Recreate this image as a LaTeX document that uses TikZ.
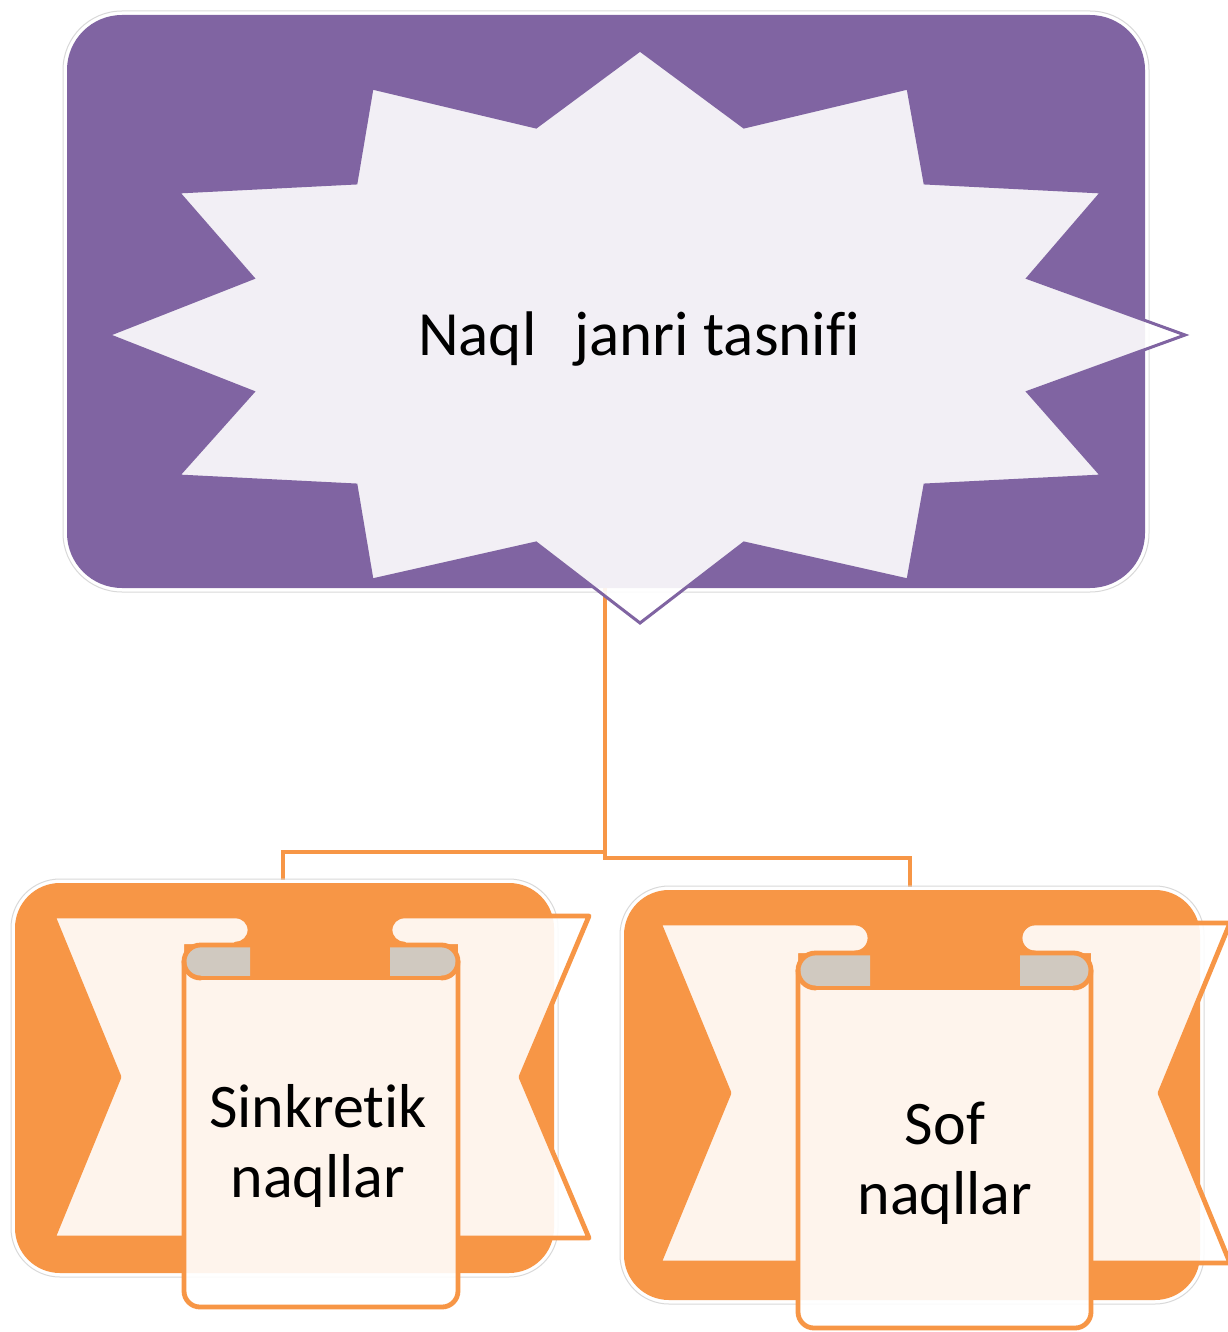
\documentclass[tikz,border=0pt]{standalone}
\usepackage{fontspec}
\setmainfont[Ligatures={NoCommon}]{Carlito}
\definecolor{purpleC}{HTML}{8064A2}
\definecolor{orangeC}{HTML}{F79646}
\definecolor{foldC}{HTML}{D0C9C0}
\definecolor{edgeC}{HTML}{D9D9D9}
\tikzset{
  boxedge/.style={draw=edgeC, line width=1pt},
  purplebox/.style={fill=purpleC},
  orangebox/.style={fill=orangeC},
  starshape/.style={fill=white, fill opacity=0.9, draw=purpleC, line width=3pt, line join=miter},
  bandfill/.style={fill=white, fill opacity=0.9},
  bandline/.style={draw=orangeC, line width=4.8pt, line join=round, line cap=round},
  foldfill/.style={fill=foldC},
  link/.style={draw=orangeC, line width=4.5pt},
  label/.style={font=\fontsize{62}{70}\selectfont, align=center, text=black},
  titlelabel/.style={font=\fontsize{63}{72}\selectfont, text=black}
}
\begin{document}
\begin{tikzpicture}[x=1pt,y=-1pt]
\useasboundingbox (0,0) rectangle (1227,1332);
\fill[white] (0,0) rectangle (1227,1332);

% connectors
\coordinate (rootout) at (605,588);
\coordinate (jl) at (605,852);
\coordinate (jr) at (605,858);
\coordinate (lefttop) at (283,880);
\coordinate (righttop) at (910,887);
\draw[link] (rootout) -- (jr) -| (righttop);
\draw[link] (jl) -| (lefttop);

% top purple box
\draw[boxedge, rounded corners=59] (63,11) rectangle (1149,592);
\fill[purplebox, rounded corners=55] (67,15) rectangle (1145,588);
\path[starshape] (640,50) -- (744,127) -- (908,88) -- (925,183) -- (1102,192) -- (1028,278) -- (1185,335) -- (1028,392) -- (1102,476) -- (925,485) -- (908,580) -- (744,543) -- (640,623) -- (536,543) -- (372,580) -- (356,485) -- (178,476) -- (253,392) -- (108,335) -- (253,278) -- (178,192) -- (356,183) -- (372,88) -- (536,127) -- cycle;
\node[titlelabel, anchor=base] (title) at (639,355) {Naql\hspace{38pt}janri tasnifi};

% left orange box
\draw[boxedge, rounded corners=49] (11,879) rectangle (558,1277);
\fill[orangebox, rounded corners=45] (15,883) rectangle (554,1273);
% banner ends
\path[bandfill] (53,916) -- (236,916) arc[start angle=-90,end angle=90,radius=14] -- (184,944) -- (184,1238) -- (53,1238) -- (119,1077) -- cycle;
\path[bandline] (184,1238) -- (53,1238) -- (119,1077) -- (53,916) -- (236,916) arc[start angle=-90,end angle=90,radius=14];
\path[bandfill] (589,916) -- (404,916) arc[start angle=-90,end angle=-270,radius=14] -- (458,944) -- (458,1238) -- (589,1238) -- (521,1077) -- cycle;
\path[bandline] (458,1238) -- (589,1238) -- (521,1077) -- (589,916) -- (404,916) arc[start angle=-90,end angle=-270,radius=14];
% face
\path[bandfill] (184,961.5) -- (184,1291) arc[start angle=180,end angle=90,radius=16] -- (442,1307) arc[start angle=90,end angle=0,radius=16] -- (458,961.5) -- (441.5,961.5) -- (441.5,978) -- (200.5,978) -- (200.5,961.5) -- cycle;
% folds
\path[foldfill] (250,945) -- (200.5,945) arc[start angle=-90,end angle=-270,radius=16.5] -- (250,978) -- cycle;
\path[bandline] (250,945) -- (200.5,945) arc[start angle=-90,end angle=-270,radius=16.5];
\path[foldfill] (390,945) -- (441.5,945) arc[start angle=-90,end angle=90,radius=16.5] -- (390,978) -- cycle;
\path[bandline] (390,945) -- (441.5,945) arc[start angle=-90,end angle=90,radius=16.5];
\path[bandline] (184,961.5) -- (184,1291) arc[start angle=180,end angle=90,radius=16] -- (442,1307) arc[start angle=90,end angle=0,radius=16] -- (458,961.5);
\path[bandline] (200.5,978) -- (441.5,978);
\node[label, anchor=base] (sink) at (318,1197) {Sinkretik\\naqllar};

% right orange box
\draw[boxedge, rounded corners=49] (620,886) rectangle (1204,1304);
\fill[orangebox, rounded corners=45] (624,890) rectangle (1200,1300);
\path[bandfill] (659,923) -- (855,923) arc[start angle=-90,end angle=90,radius=15] -- (798,953) -- (798,1263) -- (659,1263) -- (729,1093) -- cycle;
\path[bandline] (798,1263) -- (659,1263) -- (729,1093) -- (659,923) -- (855,923) arc[start angle=-90,end angle=90,radius=15];
\path[bandfill] (1230,923) -- (1035,923) arc[start angle=-90,end angle=-270,radius=15] -- (1091,953) -- (1091,1263) -- (1230,1263) -- (1160,1093) -- cycle;
\path[bandline] (1091,1263) -- (1230,1263) -- (1160,1093) -- (1230,923) -- (1035,923) arc[start angle=-90,end angle=-270,radius=15];
\path[bandfill] (798,970.5) -- (798,1312) arc[start angle=180,end angle=90,radius=16] -- (1075,1328) arc[start angle=90,end angle=0,radius=16] -- (1091,970.5) -- (1073.5,970.5) -- (1073.5,988) -- (815.5,988) -- (815.5,970.5) -- cycle;
\path[foldfill] (870,953) -- (815.5,953) arc[start angle=-90,end angle=-270,radius=17.5] -- (870,988) -- cycle;
\path[bandline] (870,953) -- (815.5,953) arc[start angle=-90,end angle=-270,radius=17.5];
\path[foldfill] (1020,953) -- (1073.5,953) arc[start angle=-90,end angle=90,radius=17.5] -- (1020,988) -- cycle;
\path[bandline] (1020,953) -- (1073.5,953) arc[start angle=-90,end angle=90,radius=17.5];
\path[bandline] (798,970.5) -- (798,1312) arc[start angle=180,end angle=90,radius=16] -- (1075,1328) arc[start angle=90,end angle=0,radius=16] -- (1091,970.5);
\path[bandline] (815.5,988) -- (1073.5,988);
\node[label, anchor=base] (sof) at (945,1214) {Sof\\naqllar};
\end{tikzpicture}
\end{document}
